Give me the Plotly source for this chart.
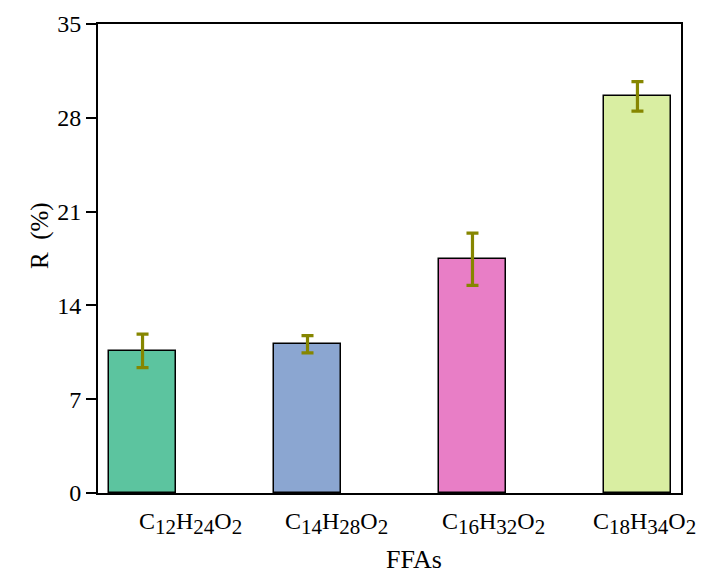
import plotly.graph_objects as go

# Recovery ratio of each free fatty acid
categories = ["C12H24O2", "C14H28O2", "C16H32O2", "C18H34O2"]
formula_parts = [("12", "24", "2"), ("14", "28", "2"), ("16", "32", "2"), ("18", "34", "2")]
values = [10.6, 11.1, 17.45, 29.6]
errors = [1.25, 0.65, 1.95, 1.1]
colors = ["#5cc49f", "#8ba6d1", "#e87ec6", "#d9eea2"]
yticks = [0, 7, 14, 21, 28, 35]

# horizontal offsets (px) of the category labels relative to bar centres
label_shift = [48, 29, 21, 7]

FONT = "Liberation Serif, Times New Roman, serif"


def sub(s):
    return f"<sub><span style='font-size:21px'>{s}</span></sub>"


labels = [f"C{sub(c)}H{sub(h)}O{sub(o)}" for c, h, o in formula_parts]

x_idx = list(range(len(categories)))

fig = go.Figure()
fig.add_trace(go.Bar(
    x=x_idx, y=values, width=0.406,
    marker=dict(color=colors, line=dict(color="black", width=1.5)),
    error_y=dict(type="data", array=errors, color="#868600", thickness=3.2, width=6),
    showlegend=False,
))

annotations = []
for i, lab in enumerate(labels):
    annotations.append(dict(
        x=i, y=0, xref="x", yref="y", text=lab, showarrow=False,
        xshift=label_shift[i], yshift=-30, font=dict(family=FONT, size=24, color="black"),
    ))
annotations.append(dict(
    x=0.5, y=-0.1745, xref="paper", yref="paper", text="FFAs", showarrow=False,
    xshift=24, yanchor="bottom", borderpad=0, font=dict(family=FONT, size=26, color="black"),
))
annotations.append(dict(
    x=-0.127, y=0.55, xref="paper", yref="paper", text="R  (%)", showarrow=False,
    textangle=-90, font=dict(family=FONT, size=25, color="black"),
))

fig.update_layout(
    width=702, height=575,
    margin=dict(l=98, r=21, t=24, b=82),
    paper_bgcolor="white", plot_bgcolor="white",
    font=dict(family=FONT, size=24, color="black"),
    annotations=annotations,
    bargap=0,
)
fig.update_xaxes(
    range=[-0.27, 3.264], showticklabels=False, ticks="",
    showline=True, linecolor="black", linewidth=2, mirror=True,
    showgrid=False, zeroline=False,
)
fig.update_yaxes(
    range=[0, 35], tickvals=yticks, ticks="outside", ticklen=10, tickwidth=2,
    tickcolor="black", showline=True, linecolor="black", linewidth=2, mirror=True,
    showgrid=False, zeroline=False, tickfont=dict(family=FONT, size=24),
)

fig.write_html("out.html")
